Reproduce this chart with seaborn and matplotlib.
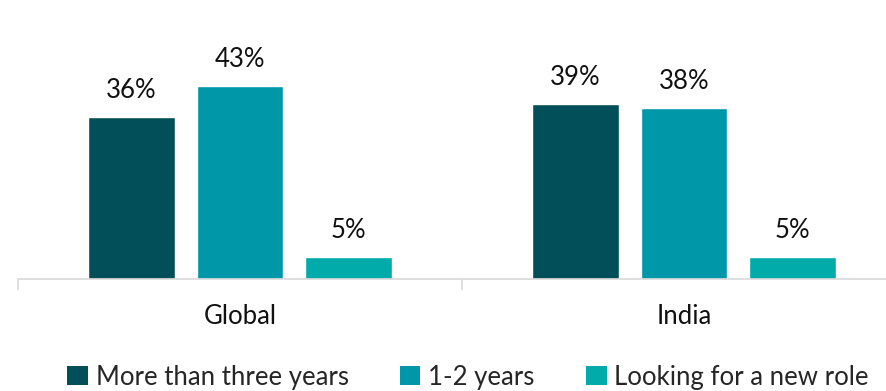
import matplotlib
matplotlib.use("Agg")
import matplotlib.pyplot as plt
import seaborn as sns
import pandas as pd
from matplotlib.patches import Patch

regions = ["Global", "India"]
series = ["More than three years", "1-2 years", "Looking for a new role"]
values_global = [36, 43, 5]
values_india = [39, 38, 5]
colors = ["#034F59", "#0097A8", "#00ABAA"]

rows = []
for r, vals in zip(regions, [values_global, values_india]):
    for s, v in zip(series, vals):
        rows.append({"region": r, "series": s, "value": v})
df = pd.DataFrame(rows)

sns.set_theme(style="white")
plt.rcParams["font.family"] = ["Lato", "DejaVu Sans"]

W, H = 887, 391
fig = plt.figure(figsize=(W / 100, H / 100), dpi=100)
left, right, base = 18, 906, 279
ymax = 50
px_per = 4.49
top = base - ymax * px_per
ax = fig.add_axes([left / W, (H - base) / H, (right - left) / W, (base - top) / H])

sns.barplot(data=df, x="region", y="value", hue="series", palette=colors,
            width=0.733, gap=0.2, ax=ax, legend=False, saturation=1)

for cont in ax.containers:
    ax.bar_label(cont, labels=[f"{int(v)}%" for v in cont.datavalues],
                 padding=10, fontsize=18.5, color="#111111")

ax.set_xlim(-0.5, 1.5)
ax.set_ylim(0, ymax)
ax.set_xlabel("")
ax.set_ylabel("")
ax.set_yticks([])
for s in ["top", "right", "left"]:
    ax.spines[s].set_visible(False)
ax.spines["bottom"].set_color("#d9d9d9")
ax.spines["bottom"].set_linewidth(1.2)
ax.tick_params(axis="x", which="major", length=0, labelsize=18.5, pad=18, colors="#111111")
ax.set_xticks([-0.5, 0.5, 1.5], minor=True)
ax.tick_params(axis="x", which="minor", bottom=True, length=8, width=1.2,
               color="#d9d9d9", direction="out")

handles = [Patch(facecolor=c, edgecolor="none") for c in colors]
fig.legend(handles, series, loc="center", bbox_to_anchor=(468 / W, 1 - 377 / H),
           ncol=3, frameon=False, fontsize=18.5, handlelength=0.8, handleheight=0.8,
           handletextpad=0.3, columnspacing=2.0, borderaxespad=0)

fig.savefig("out.png", dpi=100)
